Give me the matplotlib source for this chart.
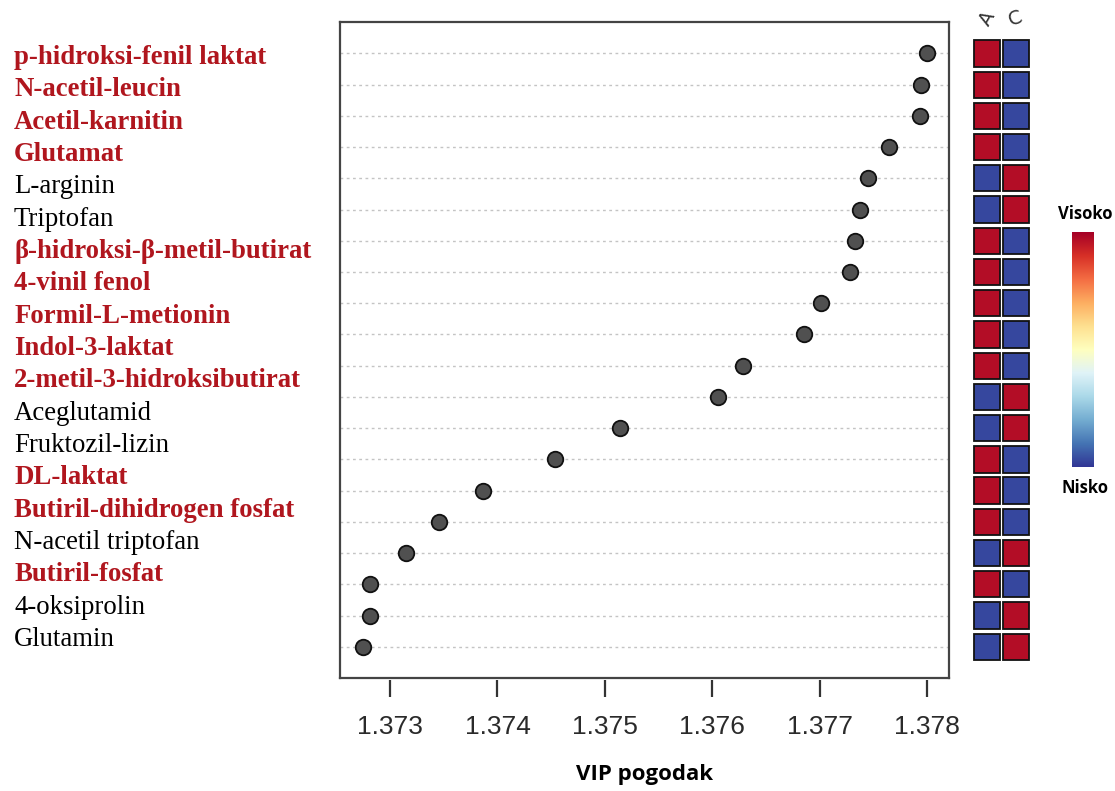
import numpy as np
import matplotlib
matplotlib.use('Agg')
import matplotlib.pyplot as plt
from matplotlib.patches import Rectangle

# ── DATA ─────────────────────────────────────────────────
labels = [
    'p-hidroksi-fenil laktat', 'N-acetil-leucin', 'Acetil-karnitin', 'Glutamat',
    'L-arginin', 'Triptofan', 'β-hidroksi-β-metil-butirat', '4-vinil fenol',
    'Formil-L-metionin', 'Indol-3-laktat', '2-metil-3-hidroksibutirat',
    'Aceglutamid', 'Fruktozil-lizin', 'DL-laktat', 'Butiril-dihidrogen fosfat',
    'N-acetil triptofan', 'Butiril-fosfat', '4-oksiprolin', 'Glutamin',
]
highlight = [1, 1, 1, 1, 0, 0, 1, 1, 1, 1, 1, 0, 0, 1, 1, 0, 1, 0, 0]

# VIP scores, top row first
vip = [1.37800, 1.37795, 1.37794, 1.37765, 1.37745, 1.37738, 1.37733, 1.37728,
       1.37701, 1.37686, 1.37629, 1.37605, 1.37514, 1.37454, 1.37387, 1.37346,
       1.37315, 1.37281, 1.37281, 1.37275]

# heatmap, 1 = high (red), 0 = low (blue); columns A, C
group_names = ['A', 'C']
heat_A = [1, 1, 1, 1, 0, 0, 1, 1, 1, 1, 1, 0, 0, 1, 1, 1, 0, 1, 0, 0]
heat_C = [0, 0, 0, 0, 1, 1, 0, 0, 0, 0, 0, 1, 1, 0, 0, 0, 1, 0, 1, 1]

xticks = [1.373, 1.374, 1.375, 1.376, 1.377, 1.378]

RED = '#b0161e'
cmap = plt.get_cmap('RdYlBu_r')

fig = plt.figure(figsize=(11.15, 7.91), dpi=100)

# ── DOT PLOT ─────────────────────────────────────────────
n = len(vip)
ypos = np.arange(n, 0, -1)
ax = fig.add_axes([0.305, 0.1429, 0.546, 0.829])
for y in ypos:
    ax.axhline(y, color='#c4c4c4', linestyle=(0, (2, 2.5)), linewidth=1.0, zorder=1)
ax.scatter(vip, ypos, s=125, color='#505050', edgecolors='#111111',
           linewidths=1.3, zorder=3)
ax.set_xlim(1.372534, 1.378205)
ax.set_ylim(0, n + 1)
ax.set_yticks([])
ax.tick_params(axis='x', bottom=False, labelbottom=False)
for sp in ax.spines.values():
    sp.set_color('#444444')
    sp.set_linewidth(1.6)

sec = ax.secondary_xaxis(-0.003)
sec.set_xticks(xticks)
sec.set_xticklabels([f'{t:.3f}' for t in xticks])
sec.spines['bottom'].set_visible(False)
sec.tick_params(length=12, width=1.6, color='#333333', pad=13,
                labelsize=19, labelcolor='#2a2a2a')
for lbl in sec.get_xticklabels():
    lbl.set_family('Liberation Sans')
sec.set_xlabel('VIP pogodak', fontsize=16, fontweight='bold',
               family='Open Sans', labelpad=18)

# ── METABOLITE NAMES ─────────────────────────────────────
label_y = np.linspace(0.919, 0.1833, len(labels))
for name, hl, ly in zip(labels, highlight, label_y):
    fig.text(0.0126, ly, name, family='Liberation Serif', fontsize=19.3,
             fontweight='bold' if hl else 'normal',
             color=RED if hl else 'black', va='baseline', ha='left')

# ── HEATMAP ──────────────────────────────────────────────
axh = fig.add_axes([0.871, 0.1429, 0.054, 0.829])
for j, col in enumerate([heat_A, heat_C]):
    for y, v in zip(ypos, col):
        axh.add_patch(Rectangle((j - 0.45, y - 0.42), 0.9, 0.84,
                                facecolor=cmap(0.97 if v else 0.03),
                                edgecolor='#111111', linewidth=1.3))
axh.set_xlim(-0.55, 1.55)
axh.set_ylim(0, n + 1)
axh.axis('off')
for j, g in enumerate(group_names):
    axh.text(j, n + 1.13, g, rotation=60 if j == 0 else 20, ha='center',
             va='center', fontsize=14, color='#333333', family='DejaVu Sans',
             clip_on=False)

# ── COLORBAR ─────────────────────────────────────────────
axc = fig.add_axes([0.9614, 0.4096, 0.019, 0.297])
grad = np.linspace(0, 1, 256).reshape(-1, 1)
axc.imshow(grad, cmap=cmap, aspect='auto', origin='lower')
axc.axis('off')
fig.text(0.973, 0.718, 'Visoko', ha='center', va='bottom', fontsize=12,
         fontweight='bold', family='Open Sans')
fig.text(0.973, 0.394, 'Nisko', ha='center', va='top', fontsize=12,
         fontweight='bold', family='Open Sans')

plt.savefig('out.png', dpi=100)
